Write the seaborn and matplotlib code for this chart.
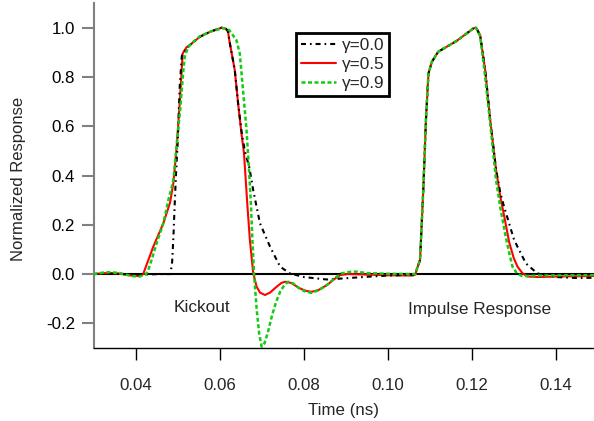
import matplotlib
matplotlib.use("Agg")
import matplotlib.pyplot as plt
import seaborn as sns
import pandas as pd

# values
t_g00 = [0.0300, 0.0340, 0.0400, 0.0470, 0.0483, 0.0487, 0.0490, 0.0493, 0.0496, 0.0500,
         0.0505, 0.0510, 0.0514, 0.0529, 0.0553, 0.0577, 0.0605, 0.0615, 0.0620, 0.0623,
         0.0636, 0.0644, 0.0652, 0.0660, 0.0671, 0.0680, 0.0696, 0.0720, 0.0744, 0.0767,
         0.0800, 0.0855, 0.0900, 0.0950, 0.1000, 0.1060, 0.1066, 0.1070, 0.1077, 0.1085,
         0.1091, 0.1097, 0.1105, 0.1120, 0.1164, 0.1204, 0.1210, 0.1220, 0.1232, 0.1244,
         0.1258, 0.1268, 0.1277, 0.1301, 0.1329, 0.1356, 0.1400, 0.1450, 0.1491]
r_g00 = [0.000, 0.002, -0.002, 0.000, 0.000, 0.050, 0.150, 0.280, 0.400, 0.530,
         0.760, 0.885, 0.900, 0.929, 0.963, 0.983, 1.000, 0.995, 0.985, 0.949,
         0.828, 0.692, 0.580, 0.500, 0.430, 0.340, 0.206, 0.111, 0.030, 0.003,
         -0.012, -0.022, -0.017, -0.011, -0.006, -0.003, 0.000, 0.023, 0.057, 0.354,
         0.625, 0.814, 0.861, 0.902, 0.946, 0.997, 1.000, 0.970, 0.828, 0.625,
         0.422, 0.330, 0.273, 0.138, 0.043, 0.003, -0.012, -0.016, -0.015]

t_g05 = [0.0300, 0.0330, 0.0360, 0.0390, 0.0410, 0.0418, 0.0442, 0.0466, 0.0482, 0.0490,
         0.0498, 0.0506, 0.0512, 0.0521, 0.0529, 0.0553, 0.0577, 0.0605, 0.0615, 0.0620,
         0.0623, 0.0636, 0.0644, 0.0652, 0.0658, 0.0666, 0.0672, 0.0680, 0.0688, 0.0696,
         0.0708, 0.0720, 0.0736, 0.0747, 0.0756, 0.0770, 0.0791, 0.0805, 0.0819, 0.0835,
         0.0855, 0.0875, 0.0887, 0.0905, 0.0950, 0.1000, 0.1060, 0.1066, 0.1070, 0.1077,
         0.1085, 0.1091, 0.1097, 0.1105, 0.1120, 0.1164, 0.1204, 0.1210, 0.1220, 0.1232,
         0.1244, 0.1258, 0.1268, 0.1279, 0.1289, 0.1300, 0.1309, 0.1320, 0.1332, 0.1360,
         0.1400, 0.1491]
r_g05 = [0.000, 0.004, 0.002, -0.006, -0.008, 0.000, 0.111, 0.206, 0.290, 0.370,
         0.520, 0.720, 0.895, 0.920, 0.929, 0.963, 0.983, 1.000, 0.995, 0.985,
         0.949, 0.828, 0.692, 0.570, 0.490, 0.280, 0.138, 0.003, -0.051, -0.075,
         -0.085, -0.075, -0.051, -0.036, -0.031, -0.036, -0.058, -0.068, -0.072, -0.065,
         -0.045, -0.018, -0.004, 0.000, -0.002, -0.005, -0.006, 0.000, 0.023, 0.057,
         0.354, 0.625, 0.814, 0.861, 0.902, 0.946, 0.997, 1.000, 0.970, 0.828,
         0.625, 0.422, 0.314, 0.220, 0.130, 0.065, 0.030, 0.005, -0.010, -0.012,
         -0.010, -0.008]

t_g09 = [0.0300, 0.0330, 0.0360, 0.0390, 0.0410, 0.0425, 0.0430, 0.0438, 0.0450, 0.0466,
         0.0478, 0.0490, 0.0498, 0.0506, 0.0513, 0.0517, 0.0525, 0.0537, 0.0553, 0.0580,
         0.0606, 0.0612, 0.0623, 0.0640, 0.0648, 0.0655, 0.0664, 0.0669, 0.0674, 0.0678,
         0.0682, 0.0688, 0.0694, 0.0700, 0.0707, 0.0715, 0.0724, 0.0734, 0.0744, 0.0754,
         0.0763, 0.0775, 0.0791, 0.0805, 0.0819, 0.0835, 0.0855, 0.0875, 0.0890, 0.0910,
         0.0926, 0.0950, 0.1000, 0.1060, 0.1066, 0.1070, 0.1077, 0.1085, 0.1091, 0.1097,
         0.1105, 0.1120, 0.1164, 0.1204, 0.1210, 0.1220, 0.1232, 0.1244, 0.1258, 0.1268,
         0.1281, 0.1290, 0.1297, 0.1308, 0.1320, 0.1360, 0.1491]
r_g09 = [0.000, 0.008, 0.005, -0.008, -0.010, 0.000, 0.016, 0.057, 0.125, 0.206,
         0.300, 0.381, 0.530, 0.665, 0.814, 0.882, 0.922, 0.942, 0.965, 0.985,
         0.997, 0.998, 0.990, 0.949, 0.895, 0.760, 0.584, 0.450, 0.300, 0.140,
         0.000, -0.140, -0.240, -0.295, -0.280, -0.235, -0.173, -0.115, -0.072, -0.045,
         -0.031, -0.038, -0.060, -0.072, -0.076, -0.066, -0.045, -0.015, 0.003, 0.009,
         0.010, 0.004, 0.001, 0.000, 0.000, 0.023, 0.057, 0.354, 0.625, 0.814,
         0.861, 0.902, 0.946, 0.997, 1.000, 0.965, 0.800, 0.610, 0.380, 0.270,
         0.150, 0.080, 0.030, 0.002, -0.008, -0.006, -0.004]

gammas = ["\u03b3=0.0", "\u03b3=0.5", "\u03b3=0.9"]
x_ticks = [0.04, 0.06, 0.08, 0.10, 0.12, 0.14]
y_ticks = [-0.2, 0.0, 0.2, 0.4, 0.6, 0.8, 1.0]

sns.set_style("ticks")
plt.rcParams['font.family'] = ['Liberation Sans', 'DejaVu Sans']
plt.rcParams['axes.unicode_minus'] = False

fig = plt.figure(figsize=(5.94, 4.21), dpi=100)
ax = fig.add_axes([94 / 594, 1 - 348 / 421, 500 / 594, 345 / 421])

ax.axhline(0, color="black", lw=1.5, zorder=1)

sns.lineplot(x=t_g00, y=r_g00, ax=ax, color="black", lw=1.5, estimator=None,
             linestyle=(0, (2.4, 1.9, 0.8, 1.9)), label=gammas[0], zorder=3)
sns.lineplot(x=t_g05, y=r_g05, ax=ax, color="#ff0000", lw=1.5, estimator=None,
             label=gammas[1], zorder=2)
sns.lineplot(x=t_g09, y=r_g09, ax=ax, color="#11cc11", lw=1.8, estimator=None,
             linestyle=(0, (1.6, 1.0)), label=gammas[2], zorder=4)

ax.set_xlim(0.0301, 0.1491)
ax.set_ylim(-0.30, 1.10)
ax.set_xticks(x_ticks)
ax.set_xticklabels([f"{v:.2f}" for v in x_ticks])
ax.set_yticks(y_ticks)
ax.set_yticklabels([f"{v:.1f}" for v in y_ticks])

for s in ["top", "right"]:
    ax.spines[s].set_visible(False)
ax.spines["left"].set_color("#808080")
ax.spines["left"].set_linewidth(1.5)
ax.spines["bottom"].set_color("black")
ax.spines["bottom"].set_linewidth(1.0)
ax.tick_params(axis="y", direction="out", length=8.5, width=1.5, color="#808080",
               pad=5, labelsize=12.2, labelcolor="black")
ax.tick_params(axis="x", direction="out", length=8.5, width=1.0, color="black",
               pad=13, labelsize=12.2)

ax.set_xlabel("Time (ns)", fontsize=12.2)
ax.set_ylabel("Normalized Response", fontsize=12)
ax.xaxis.set_label_coords(0.5, -0.16)
ax.yaxis.set_label_coords(-0.136, 0.49)

ax.text(0.0557, -0.134, "Kickout", ha="center", va="center", fontsize=12.4)
ax.text(0.1218, -0.145, "Impulse Response", ha="center", va="center", fontsize=12.4)

leg = ax.legend(loc="upper left", bbox_to_anchor=(296 / 594, 1 - 33 / 421),
                bbox_transform=fig.transFigure, fontsize=12.4, frameon=True,
                fancybox=False, framealpha=1, edgecolor="black", borderpad=0.3,
                labelspacing=0.22, handlelength=2.0, handletextpad=0.35,
                borderaxespad=0)
leg.get_frame().set_linewidth(2)

fig.savefig("out.png", dpi=100)
